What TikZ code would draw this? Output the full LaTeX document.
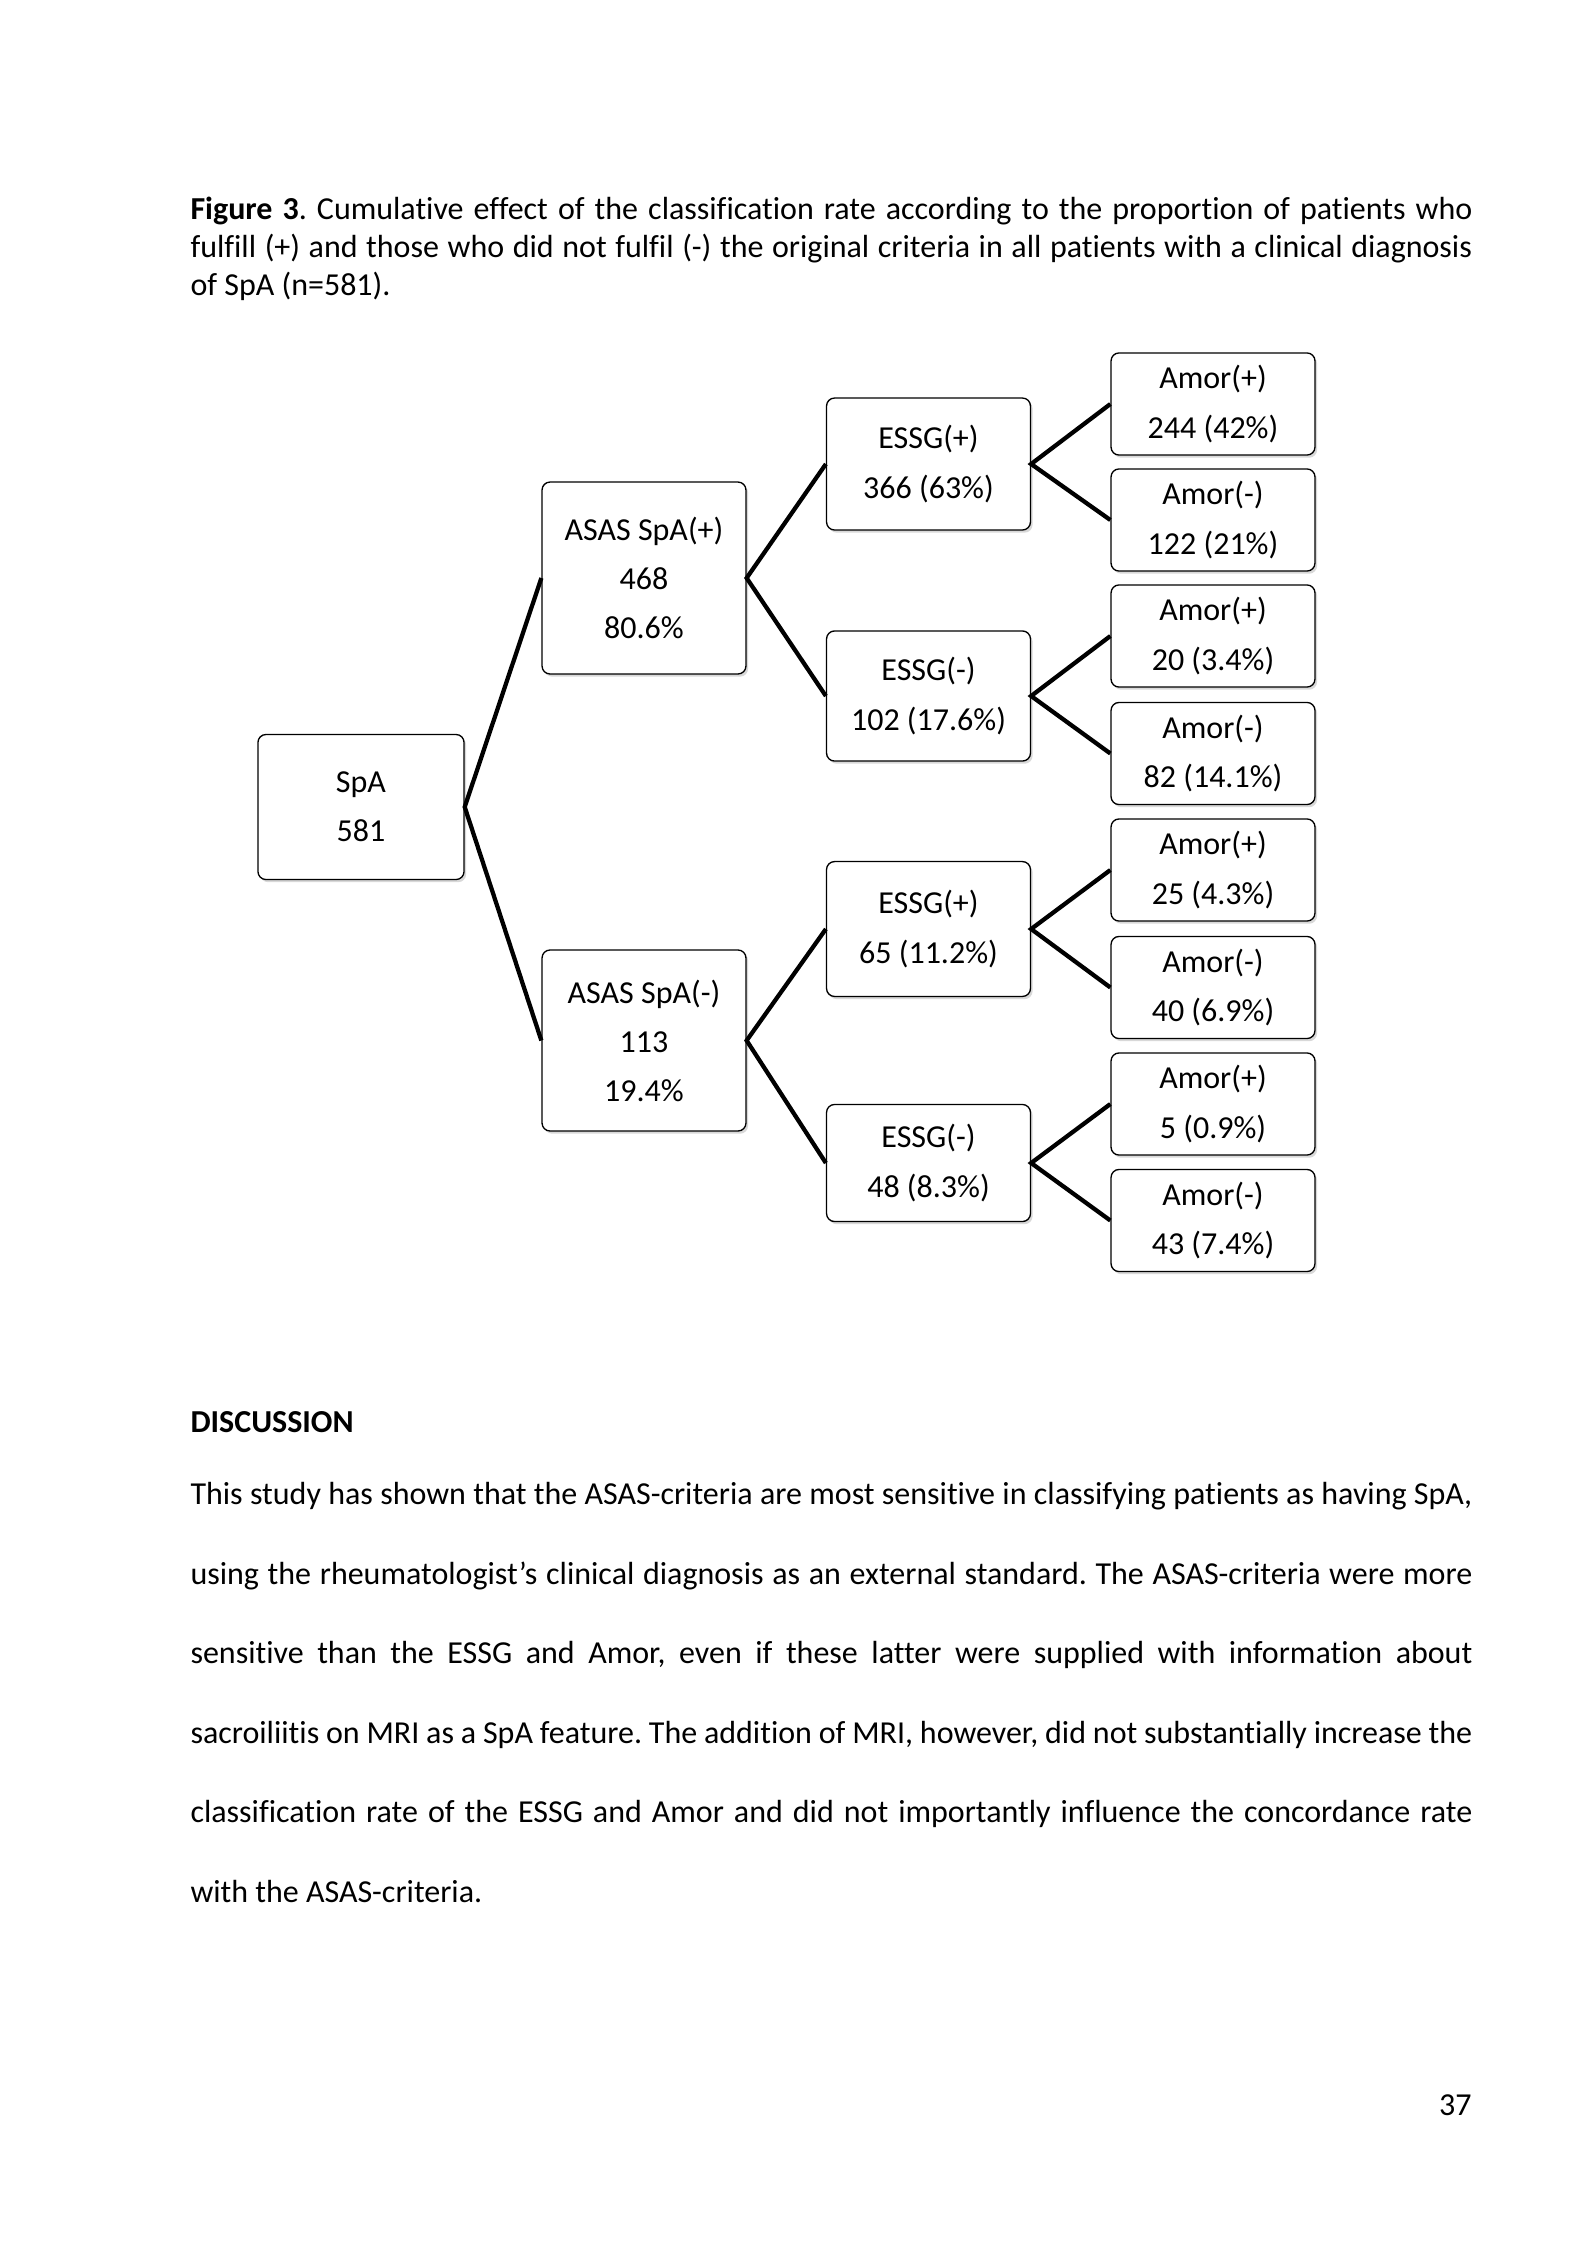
\documentclass[tikz,border=0pt]{standalone}
\usepackage{fontspec}
\setmainfont{Carlito}[Ligatures=NoCommon]
\frenchspacing
\usetikzlibrary{shadows}
\tikzset{
  box/.style={draw,line width=.5pt,rounded corners=3pt,fill=white,align=center,inner sep=0pt,
    minimum width=76.5pt,font=\fontsize{12}{18.4}\selectfont,
    drop shadow={shadow xshift=.8pt,shadow yshift=-1pt,opacity=.3}},
  link/.style={line width=1.6pt,line join=miter},
  txt/.style={anchor=base west,inner sep=0pt,font=\fontsize{12}{14.65}\selectfont}
}
\newcommand\fullline[1]{\makebox[169mm][s]{#1}}
\begin{document}
\begin{tikzpicture}[x=.3751pt,y=-.3751pt]
	\fill[white](0,0)rectangle(1593,2250);
	\useasboundingbox(0,0)rectangle(1593,2250);
	% caption
	\node[txt](cap1)at(190,219){\fullline{\textbf{Figure 3}. Cumulative effect of the classification rate according to the proportion of patients who}};
	\node[txt](cap2)at(190,257){\fullline{fulfill (+) and those who did not fulfil (-) the original criteria in all patients with a clinical diagnosis}};
	\node[txt](cap3)at(190,295){of SpA (n=581).};
	% tree
	\node[box,minimum width=77.3pt,minimum height=54.4pt](spa)at(361,807){SpA\\581};
	\node[box,minimum height=72pt](asasp)at(644,578){ASAS SpA(+)\\468\\80.6\%};
	\node[box,minimum height=67.9pt](asasm)at(644,1040.5){ASAS SpA(-)\\113\\19.4\%};
	\node[box,minimum height=49.5pt](essgpp)at(928.5,464){ESSG(+)\\366 (63\%)};
	\node[box,minimum height=48.8pt](essgpm)at(928.5,696){ESSG(-)\\102 (17.6\%)};
	\node[box,minimum height=50.6pt](essgmp)at(928.5,929){ESSG(+)\\65 (11.2\%)};
	\node[box,minimum height=43.9pt](essgmm)at(928.5,1163){ESSG(-)\\48 (8.3\%)};
	\node[box,minimum height=38.3pt](amor1)at(1213,404){Amor(+)\\244 (42\%)};
	\node[box,minimum height=38.3pt](amor2)at(1213,520){Amor(-)\\122 (21\%)};
	\node[box,minimum height=38.3pt](amor3)at(1213,636){Amor(+)\\20 (3.4\%)};
	\node[box,minimum height=38.3pt](amor4)at(1213,753.5){Amor(-)\\82 (14.1\%)};
	\node[box,minimum height=38.3pt](amor5)at(1213,870){Amor(+)\\25 (4.3\%)};
	\node[box,minimum height=38.3pt](amor6)at(1213,987.5){Amor(-)\\40 (6.9\%)};
	\node[box,minimum height=38.3pt](amor7)at(1213,1104){Amor(+)\\5 (0.9\%)};
	\node[box,minimum height=38.3pt](amor8)at(1213,1220.5){Amor(-)\\43 (7.4\%)};
	\draw[link](asasp.west)--(spa.east)--(asasm.west);
	\draw[link](essgpp.west)--(asasp.east)--(essgpm.west);
	\draw[link](essgmp.west)--(asasm.east)--(essgmm.west);
	\draw[link](amor1.west)--(essgpp.east)--(amor2.west);
	\draw[link](amor3.west)--(essgpm.east)--(amor4.west);
	\draw[link](amor5.west)--(essgmp.east)--(amor6.west);
	\draw[link](amor7.west)--(essgmm.east)--(amor8.west);
	% discussion
	\node[txt](head)at(190,1432){\textbf{DISCUSSION}};
	\node[txt](par1)at(190,1504){\fullline{This study has shown that the ASAS-criteria are most sensitive in classifying patients as having SpA,}};
	\node[txt](par2)at(190,1584){\fullline{using the rheumatologist’s clinical diagnosis as an external standard. The ASAS-criteria were more}};
	\node[txt](par3)at(190,1663){\fullline{sensitive than the ESSG and Amor, even if these latter were supplied with information about}};
	\node[txt](par4)at(190,1743){\fullline{sacroiliitis on MRI as a SpA feature. The addition of MRI, however, did not substantially increase the}};
	\node[txt](par5)at(190,1822){\fullline{classification rate of the ESSG and Amor and did not importantly influence the concordance rate}};
	\node[txt](par6)at(190,1902){with the ASAS-criteria.};
	\node[txt,anchor=base east](page)at(1472,2115){37};
\end{tikzpicture}
\end{document}
